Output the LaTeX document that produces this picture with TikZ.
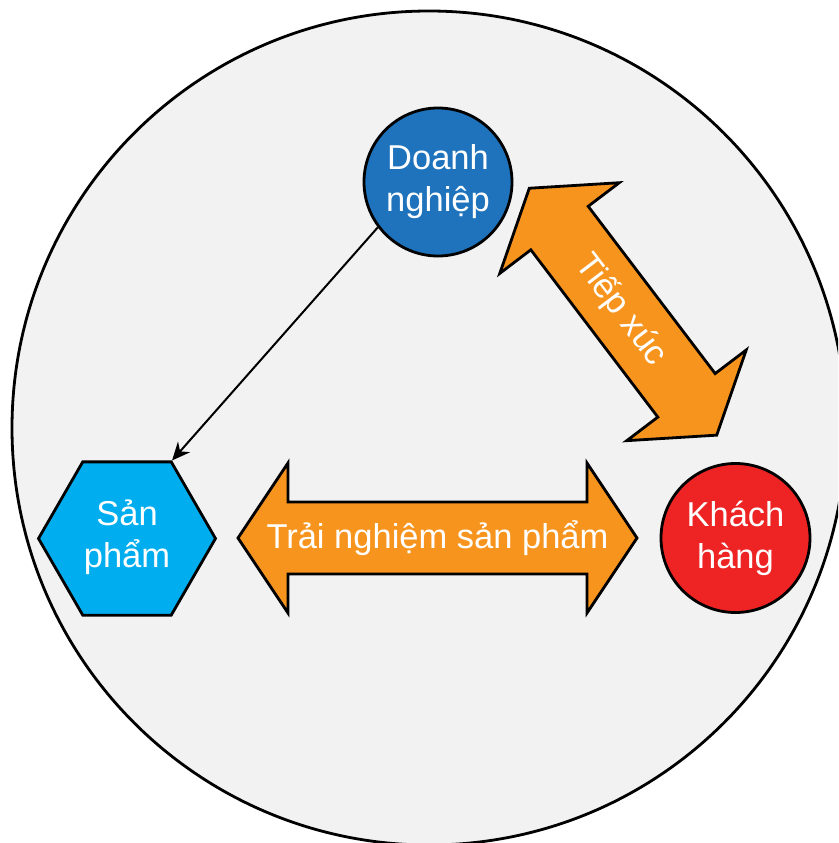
\documentclass[tikz,border=0pt]{standalone}
\usepackage{fontspec}
\setmainfont{Liberation Sans}
\usetikzlibrary{arrows.meta,shapes.geometric}
\definecolor{bgfill}{RGB}{242,242,242}
\definecolor{dnblue}{RGB}{30,115,188}
\definecolor{spcyan}{RGB}{0,174,239}
\definecolor{khred}{RGB}{238,36,36}
\definecolor{arrorange}{RGB}{247,148,30}
\newcommand\dblarrowpath[1]{(-#1,0) -- (-#1+50,-75) -- (-#1+50,-36) -- (#1-50,-36) -- (#1-50,-75) -- (#1,0) -- (#1-50,75) -- (#1-50,36) -- (-#1+50,36) -- (-#1+50,75) -- cycle}
\begin{document}
\begin{tikzpicture}[x=1pt,y=-1pt,
  outline/.style={draw=black,line width=2.8pt},
  lbl/.style={text=white,font=\fontsize{34.5}{42}\selectfont,align=center,inner sep=0pt},
  bigarrow/.style={outline,fill=arrorange,line join=miter},
  link/.style={draw=black,line width=2pt,-{Stealth[length=18pt,width=16pt]}}]
\useasboundingbox (0,0) rectangle (838,843);
\clip (0,0) rectangle (838,843);
\draw[outline,fill=bgfill] (429,428) circle[radius=417];
% nodes
\node[outline,circle,fill=dnblue,minimum size=148,lbl] (dn) at (438,182) {Doanh\\nghiệp};
\node[outline,circle,fill=khred,minimum size=149,lbl] (kh) at (735.5,538) {Khách\\hàng};
\node[outline,regular polygon,regular polygon sides=6,minimum size=177,fill=spcyan,lbl] (sp) at (127,538.5) {S\smash{ả}n\\phẩm};
% horizontal double arrow
\begin{scope}[shift={(437.5,538)}]
\draw[bigarrow] \dblarrowpath{199.5};
\end{scope}
\node[lbl] (tr) at (437.5,538) {Trải nghiệm sản phẩm};
% diagonal double arrow
\begin{scope}[shift={(623,311.7)},rotate=-52.8]
\draw[bigarrow] \dblarrowpath{155};
\end{scope}
\node[lbl,rotate=-52.8] (tx) at (621,310) {Tiếp xúc};
% connector
\draw[link] (dn.217.5) -- (sp.60);
\end{tikzpicture}
\end{document}
